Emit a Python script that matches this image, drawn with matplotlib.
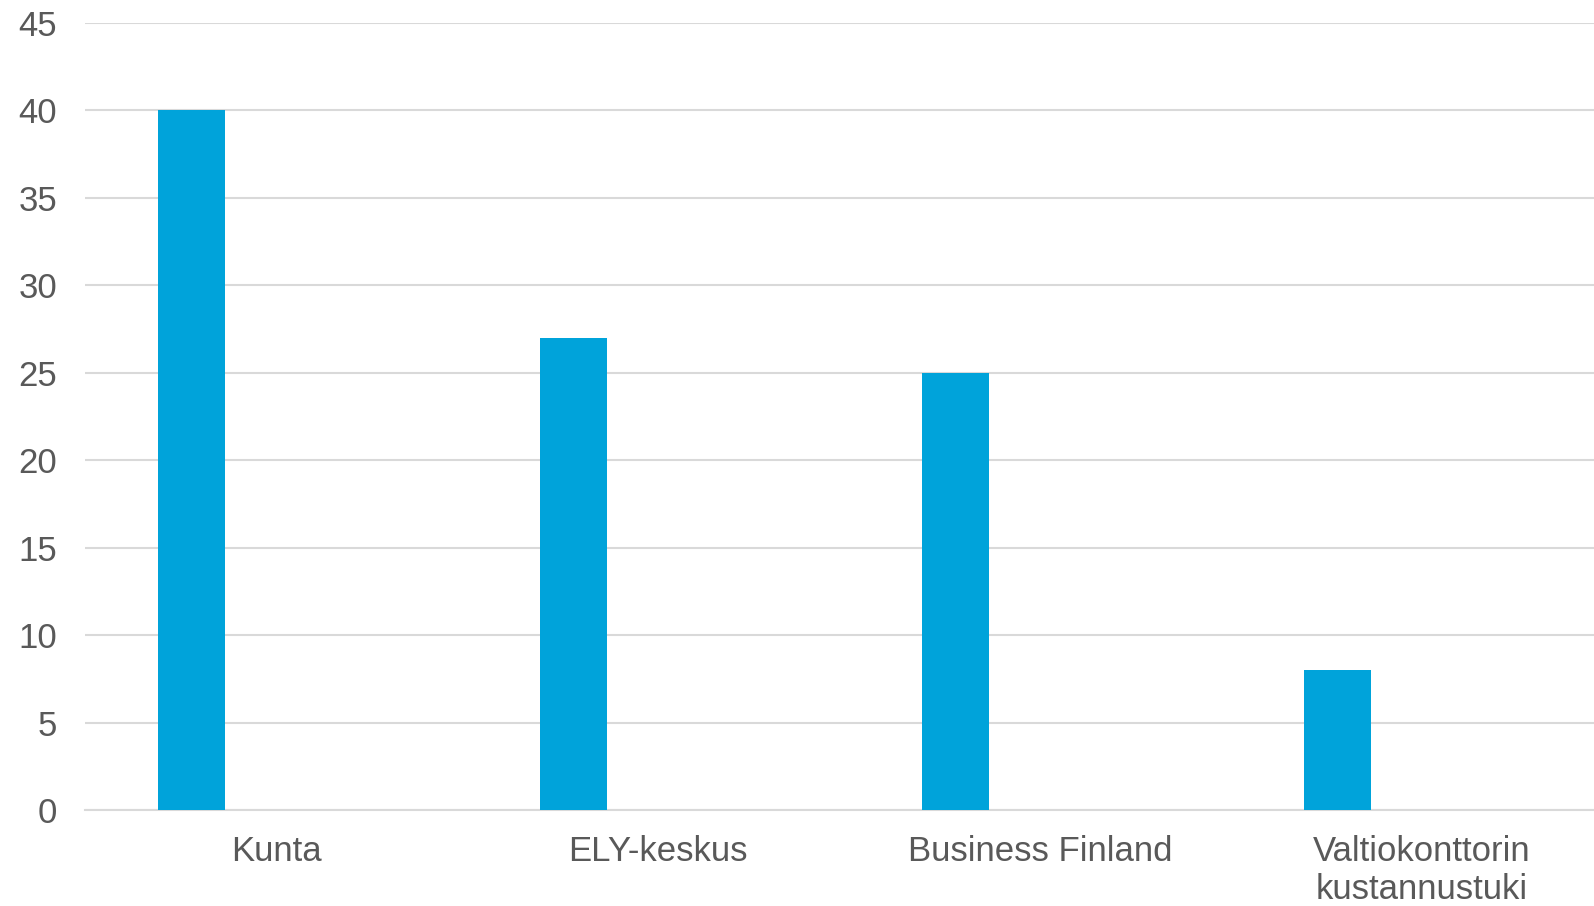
import matplotlib
matplotlib.use("Agg")
import matplotlib.pyplot as plt
import numpy as np

categories = ["Kunta", "ELY-keskus", "Business Finland", "Valtiokonttorin\nkustannustuki"]
values = [40, 27, 25, 8]
yticks = [0, 5, 10, 15, 20, 25, 30, 35, 40, 45]

plt.rcParams['font.family'] = ['Liberation Sans', 'DejaVu Sans']

W, H = 1594, 906
fig = plt.figure(figsize=(W / 100, H / 100), dpi=100)
left, right, bottom, top = 85, 1594, 810, 23
ax = fig.add_axes([left / W, 1 - bottom / H, (right - left) / W, (bottom - top) / H])

x = np.arange(len(categories))
offset = -0.221
ax.bar(x + offset, values, width=0.176, color="#00A3DA", zorder=3)

ax.set_xlim(-0.5, 3.45)
ax.set_ylim(0, 45)
ax.set_yticks(yticks)
ax.set_yticklabels([str(t) for t in yticks])
ax.set_xticks(x)
ax.set_xticklabels(categories, linespacing=1.2)

ax.yaxis.grid(True, color="#D9D9D9", linewidth=1.5, zorder=0)
ax.set_axisbelow(True)
for s in ["top", "right", "left"]:
    ax.spines[s].set_visible(False)
ax.spines["bottom"].set_color("#D9D9D9")
ax.spines["bottom"].set_linewidth(1.5)

ax.tick_params(axis="both", length=0, colors="#595959", labelsize=25)
ax.tick_params(axis="y", pad=20)
ax.tick_params(axis="x", pad=18)

fig.savefig("out.png", dpi=100, facecolor="white")
